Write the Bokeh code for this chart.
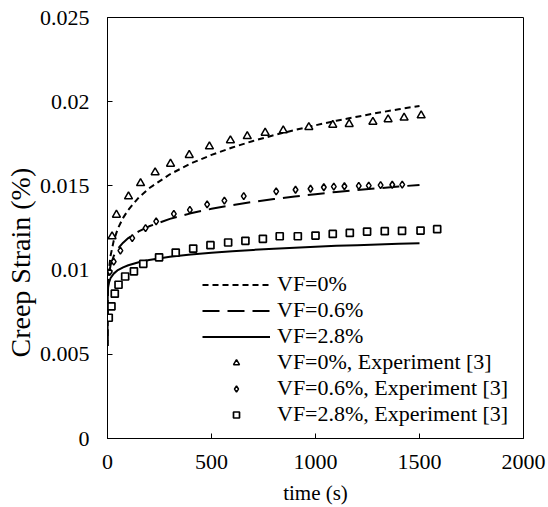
from bokeh.plotting import figure
from bokeh.models import FixedTicker, Legend, LegendItem, Range1d, Title
from bokeh.embed import file_html
from bokeh.resources import INLINE

# ---- data ----
model_t = [0, 1, 3, 7, 15, 30, 50, 75, 100, 150, 200, 300, 400, 500, 600, 700,
           800, 900, 1000, 1100, 1200, 1300, 1400, 1500]
model_vf0 = [0.0055, 0.00842, 0.00926, 0.01004, 0.01087, 0.01175, 0.01247, 0.01310,
             0.01358, 0.01431, 0.01486, 0.01569, 0.01633, 0.01684, 0.01728, 0.01767,
             0.01801, 0.01832, 0.01860, 0.01887, 0.01911, 0.01934, 0.01955, 0.01975]
model_vf06 = [0.0055, 0.00864, 0.00924, 0.00977, 0.01030, 0.01084, 0.01127, 0.01163,
              0.01190, 0.01230, 0.01260, 0.01304, 0.01337, 0.01364, 0.01386, 0.01405,
              0.01422, 0.01437, 0.01451, 0.01464, 0.01475, 0.01486, 0.01496, 0.01506]
model_vf28 = [0.0055, 0.00862, 0.00897, 0.00925, 0.00953, 0.00979, 0.01000, 0.01016,
              0.01029, 0.01047, 0.01060, 0.01079, 0.01092, 0.01103, 0.01112, 0.01120,
              0.01127, 0.01133, 0.01139, 0.01144, 0.01148, 0.01152, 0.01156, 0.01160]

exp0_t = [22, 43, 101, 159, 229, 303, 393, 490, 591, 672, 758, 845, 968, 1083,
          1162, 1276, 1349, 1426, 1508]
exp0_s = [0.0120, 0.01328, 0.01437, 0.01516, 0.0158, 0.01631, 0.01683, 0.01734,
          0.0177, 0.01795, 0.01815, 0.01829, 0.01849, 0.01862, 0.01867, 0.0188,
          0.01895, 0.01905, 0.01918]

exp06_t = [11, 30, 62, 119, 183, 234, 319, 396, 479, 562, 655, 811, 904, 976, 1040,
           1088, 1139, 1208, 1256, 1313, 1369, 1417]
exp06_s = [0.0099, 0.0105, 0.01116, 0.0119, 0.01249, 0.01289, 0.01334, 0.01358,
           0.0139, 0.01413, 0.01439, 0.01467, 0.01477, 0.01483, 0.01492, 0.01496,
           0.01498, 0.01500, 0.01502, 0.01505, 0.01507, 0.01508]

exp28_t = [6, 19, 35, 53, 85, 127, 172, 248, 328, 412, 495, 580, 663, 747, 828, 915,
           1000, 1083, 1165, 1248, 1333, 1416, 1505, 1585]
exp28_s = [0.00717, 0.00785, 0.0086, 0.00913, 0.00962, 0.00993, 0.01037, 0.01076,
           0.01104, 0.01128, 0.01148, 0.01164, 0.01174, 0.01186, 0.01201, 0.01201,
           0.01205, 0.01215, 0.01221, 0.01229, 0.01231, 0.01233, 0.01235, 0.01243]

x_ticks = [0, 500, 1000, 1500, 2000]
y_ticks = [0, 0.005, 0.01, 0.015, 0.02, 0.025]
y_tick_labels = ["0", "0.005", "0.01", "0.015", "0.02", "0.025"]

labels = ["VF=0%", "VF=0.6%", "VF=2.8%",
          "VF=0%, Experiment [3]", "VF=0.6%, Experiment [3]", "VF=2.8%, Experiment [3]"]

FONT = "Liberation Serif"

p = figure(output_backend="svg", toolbar_location=None,
           frame_width=416, frame_height=421,
           min_border_left=107, min_border_right=25, min_border_top=17, min_border_bottom=69,
           x_range=Range1d(0, 2000), y_range=Range1d(0, 0.025))

p.xgrid.visible = False
p.ygrid.visible = False
p.outline_line_color = "black"
p.outline_line_width = 1
p.outline_line_alpha = 1.0

for ax in (p.xaxis[0], p.yaxis[0]):
    ax.axis_line_color = "black"
    ax.axis_line_width = 1
    ax.major_tick_in = 5
    ax.major_tick_out = 0
    ax.minor_tick_line_color = None
    ax.major_tick_line_color = "black"
    ax.major_label_text_font = FONT
    ax.major_label_text_font_size = "22px"
    ax.major_label_text_color = "black"
    ax.axis_label_text_font = FONT
    ax.axis_label_text_font_size = "21px"
    ax.axis_label_text_font_style = "normal"
    ax.axis_label_text_color = "black"

p.xaxis.ticker = FixedTicker(ticks=x_ticks)
p.yaxis.ticker = FixedTicker(ticks=y_ticks)
p.yaxis.major_label_overrides = {t: l for t, l in zip(y_ticks, y_tick_labels)}
p.xaxis.axis_label = "time (s)"
p.xaxis.major_label_standoff = 16
p.xaxis.axis_label_standoff = 9
p.yaxis.major_label_standoff = 18

ylabel = Title(text="Creep Strain (%)", align="left", offset=81, vertical_align="middle",
               text_font=FONT, text_font_size="28px", text_font_style="normal",
               text_color="black", standoff=0)
p.add_layout(ylabel, "left")

r0 = p.line(model_t, model_vf0, line_color="black", line_width=2, line_dash="6 4")
r06 = p.line(model_t, model_vf06, line_color="black", line_width=2, line_dash="17 8")
r28 = p.line(model_t, model_vf28, line_color="black", line_width=2)

m0 = p.scatter(exp0_t, exp0_s, marker="triangle", size=8, line_color="black",
               line_width=1.5, fill_color="white")
m06 = p.scatter(exp06_t, exp06_s, marker="diamond", size=7, line_color="black",
                line_width=1.5, fill_color="white")
m28 = p.scatter(exp28_t, exp28_s, marker="square", size=7, line_color="black",
                line_width=1.7, fill_color="white")

items = [LegendItem(label=l, renderers=[r]) for l, r in zip(labels, [r0, r06, r28, m0, m06, m28])]
legend = Legend(items=items, location=(95, 11), padding=0, margin=0, spacing=0,
                glyph_width=68, glyph_height=15, label_height=22, label_standoff=7,
                label_text_font=FONT, label_text_font_size="22px", label_text_color="black",
                border_line_color=None, background_fill_alpha=0)
p.add_layout(legend, "center")

open("out.html", "w").write(file_html(p, INLINE))
